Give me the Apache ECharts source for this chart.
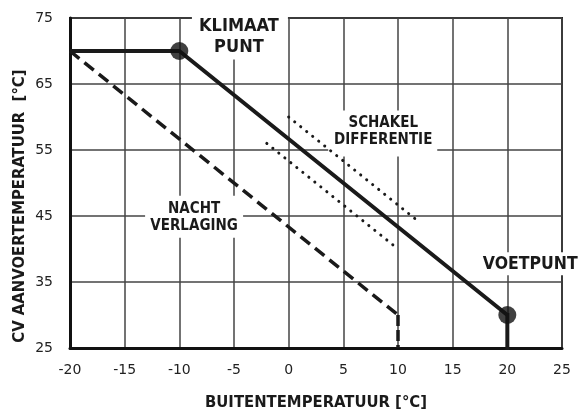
<!DOCTYPE html>
<html>
<head>
<meta charset="utf-8">
<script src="https://cdn.jsdelivr.net/npm/echarts@6/dist/echarts.min.js"></script>
<style>
  html, body { margin: 0; padding: 0; background: #fff; }
  #chart { width: 581px; height: 416px; }
</style>
</head>
<body>
<div id="chart"></div>
<script>
// Stooklijn: CV-aanvoertemperatuur als functie van de buitentemperatuur

// Axis ranges and tick steps
const xRange = [-20, 25];
const xStep = 5;
const yRange = [25, 75];
const yStep = 10;

// Heating curve: flat up to the climate point, then down to the foot point
const stooklijn = [[-20, 70], [-10, 70], [20, 30]];
const voetpuntLijn = [[20, 30], [20, 25]];
// Night setback curve (same slope, shifted)
const nachtverlaging = [[-20, 70], [10, 30]];
const nachtEinde = [[10, 30], [10, 25]];
// Switching band around the heating curve
const schakelBoven = [[0, 60], [12, 44]];
const schakelOnder = [[-2, 56], [10, 40]];
// Set points (climate point and foot point)
const instelpunten = [[-10, 70], [20, 30]];

// Annotation texts
const labelTeksten = ['KLIMAAT\nPUNT', 'SCHAKEL\nDIFFERENTIE', 'NACHT\nVERLAGING', 'VOETPUNT'];
const xTitel = 'BUITENTEMPERATUUR [°C]';
const yTitel = 'CV AANVOERTEMPERATUUR  [°C]';

// Layout of the annotations: anchor (data coords), font size, line height, white box around the text
const labelLayout = [
  { at: [-4.55, 72.2], size: 18, lh: 21, box: [-47, -40, 96, 63] },
  { at: [8.65, 57.8], size: 15, lh: 17, box: [-55, -21, 109, 46] },
  { at: [-8.65, 44.8], size: 15, lh: 17, box: [-49, -21.5, 98, 42] },
  { at: [22.1, 37.7], size: 17.5, lh: 20, box: [-51, -12, 110, 23] }
];

const BOLD = '"DejaVu Sans Condensed", "DejaVu Sans", sans-serif';
const REG = '"DejaVu Sans", Verdana, sans-serif';
const INK = '#1a1a1a';

const chart = echarts.init(document.getElementById('chart'), null, { renderer: 'canvas' });

function lineSeries(data, style) {
  return {
    type: 'line', data: data, symbol: 'none', silent: true, z: 3,
    lineStyle: Object.assign({ color: INK }, style)
  };
}

chart.setOption({
  animation: false,
  backgroundColor: '#fff',
  grid: {
    left: 70, right: 19, top: 18, bottom: 56,
    show: true, borderColor: '#222', borderWidth: 2, backgroundColor: 'transparent'
  },
  xAxis: {
    type: 'value', min: xRange[0], max: xRange[1], interval: xStep,
    axisLine: { show: true, onZero: false, lineStyle: { color: '#111', width: 3 } },
    axisTick: { show: false },
    splitLine: { show: true, lineStyle: { color: '#444', width: 1.5 } },
    axisLabel: { margin: 15, fontSize: 14, color: '#222', fontFamily: REG },
    name: xTitel, nameLocation: 'middle', nameGap: 46,
    nameTextStyle: { fontSize: 16.5, fontWeight: 'bold', color: INK, fontFamily: BOLD }
  },
  yAxis: {
    type: 'value', min: yRange[0], max: yRange[1], interval: yStep,
    axisLine: { show: true, onZero: false, lineStyle: { color: '#111', width: 3 } },
    axisTick: { show: false },
    splitLine: { show: true, lineStyle: { color: '#444', width: 1.5 } },
    axisLabel: { margin: 17, fontSize: 14, color: '#222', fontFamily: REG }
  },
  series: [
    lineSeries(schakelBoven, { width: 3, type: [0.1, 7.6], cap: 'round' }),
    lineSeries(schakelOnder, { width: 3, type: [0.1, 7.6], cap: 'round' }),
    lineSeries(nachtverlaging, { width: 3.5, type: [12, 6.5] }),
    lineSeries(nachtEinde, { width: 3.5, type: [11, 4] }),
    lineSeries(stooklijn, { width: 4 }),
    lineSeries(voetpuntLijn, { width: 4, cap: 'square' }),
    {
      type: 'scatter', data: instelpunten, symbol: 'circle', symbolSize: 18, silent: true, z: 4,
      itemStyle: { color: '#111' }
    }
  ]
});

// Annotations and the vertical axis title, placed through the grid's coordinate system
const graphics = [];
labelLayout.forEach(function (lay, i) {
  const p = chart.convertToPixel({ gridIndex: 0 }, lay.at);
  graphics.push({
    type: 'rect', z: 1, silent: true,
    shape: { x: p[0] + lay.box[0], y: p[1] + lay.box[1], width: lay.box[2], height: lay.box[3] },
    style: { fill: '#fff' }
  });
  graphics.push({
    type: 'text', z: 5, silent: true, x: p[0], y: p[1],
    style: {
      text: labelTeksten[i], fill: INK, align: 'center', verticalAlign: 'middle',
      font: 'bold ' + lay.size + 'px ' + BOLD, lineHeight: lay.lh
    }
  });
});
const yMid = chart.convertToPixel({ gridIndex: 0 }, [xRange[0], 46.5]);
graphics.push({
  type: 'text', z: 5, silent: true, x: 20, y: yMid[1], rotation: Math.PI / 2,
  style: {
    text: yTitel, fill: INK, align: 'center', verticalAlign: 'middle',
    font: 'bold 16.5px ' + BOLD
  }
});
chart.setOption({ graphic: graphics });
</script>
</body>
</html>
